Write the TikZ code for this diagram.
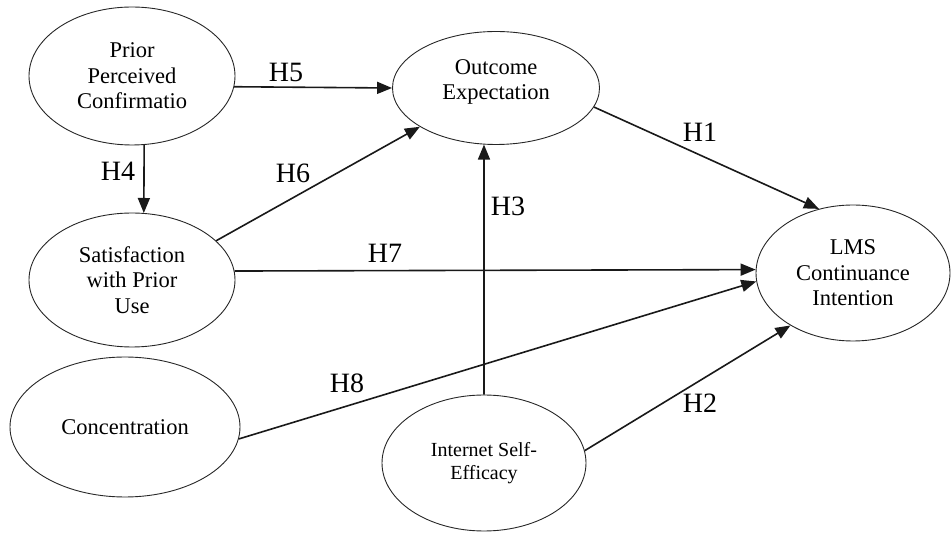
\documentclass[tikz,border=0pt]{standalone}
\usepackage{fontspec}
\setmainfont{Liberation Serif}
\usetikzlibrary{shapes.geometric,arrows.meta}
\begin{document}
\begin{tikzpicture}[x=1pt,y=1pt,
  ell/.style={ellipse, draw=black!85, line width=0.9pt, inner sep=0pt, align=center,
              font=\fontsize{22.5}{25.5}\selectfont},
  conn/.style={line width=1.6pt, draw=black!90, -{Triangle[length=15pt,width=12pt]}},
  hlab/.style={font=\fontsize{28}{30}\selectfont, inner sep=0pt}]
\useasboundingbox (0,0) rectangle (951,533);
% nodes
\node[ell, minimum width=206pt, minimum height=138pt] (ppc) at (132,457) {Prior\\Perceived\\Confirmatio};
\node[ell, minimum width=207pt, minimum height=113pt,
      label={[align=center, font=\fontsize{22.5}{25.5}\selectfont, yshift=6pt]center:{Outcome\\Expectation}}] (oe) at (496,445) {};
\node[ell, minimum width=194pt, minimum height=136pt] (lms) at (853,260) {LMS\\Continuance\\Intention};
\node[ell, minimum width=206pt, minimum height=134pt] (swpu) at (132,253) {Satisfaction\\with Prior\\Use};
\node[ell, minimum width=230pt, minimum height=140pt] (conc) at (125,106) {Concentration};
\node[ell, minimum width=204pt, minimum height=136pt, font=\fontsize{20}{23}\selectfont] (ise) at (484,70) {Internet Self-\\Efficacy};
% connectors
\draw[conn] (ppc.-6.75) -- (oe.180);
\draw[conn] (ppc.-80) -- (swpu.80);
\draw[conn] (swpu.25.2) -- (oe.207.2);
\draw[conn] (swpu.5.6) -- (lms.178.2);
\draw[conn] (conc.-6.1) -- (lms.185.8);
\draw[conn] (ise.90) -- (oe.-102.2);
\draw[conn] (oe.-11.1) -- (lms.118.7);
\draw[conn] (ise.7.3) -- (lms.220);
% labels
\node[hlab] (lh5) at (286,461) {H5};
\node[hlab] (lh4) at (118,362) {H4};
\node[hlab] (lh6) at (293,360) {H6};
\node[hlab] (lh3) at (508,327) {H3};
\node[hlab] (lh7) at (385,280) {H7};
\node[hlab] (lh1) at (700,401) {H1};
\node[hlab] (lh8) at (347,150) {H8};
\node[hlab] (lh2) at (700,130) {H2};
\end{tikzpicture}
\end{document}
